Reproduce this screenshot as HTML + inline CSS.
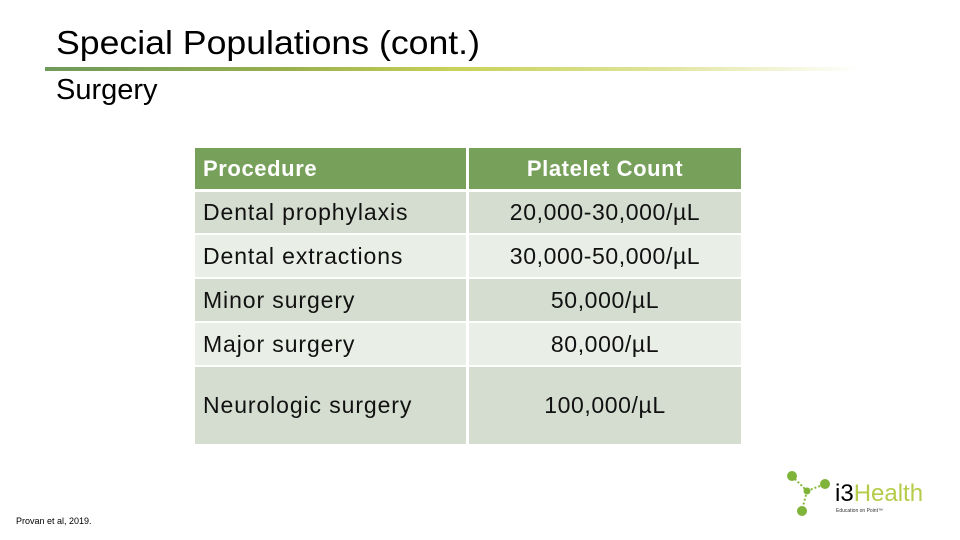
<!DOCTYPE html>
<html><head><meta charset="utf-8"><style>
body{margin:0;width:960px;height:540px;background:#fff;position:relative;overflow:hidden;font-family:"Liberation Sans",sans-serif;}
.t{position:absolute;color:#000;white-space:nowrap}
.c{position:absolute;display:flex;align-items:center;font-size:23px;letter-spacing:0.6px;color:#111;box-sizing:border-box;white-space:nowrap}
</style></head><body>
<div class="t" style="left:56px;top:24px;font-size:33px;transform:scaleX(1.08);transform-origin:left">Special Populations (cont.)</div>
<div style="position:absolute;left:45px;top:67px;width:815px;height:4px;background:linear-gradient(90deg,#6e9a5a 0%,#9ab04e 30%,#c8d158 50%,#dfe49a 75%,#fff 100%)"></div>
<div class="t" style="left:56px;top:74px;font-size:29px">Surgery</div>
<div id="tbl"></div>
<div class="t" style="left:16px;top:516px;font-size:9px">Provan et al, 2019.</div>
<svg style="position:absolute;left:780px;top:460px" width="160" height="70">
<line x1="12" y1="16" x2="27" y2="31" stroke="#8ab83a" stroke-width="2" stroke-dasharray="2 2"/>
<line x1="27" y1="31" x2="45" y2="24" stroke="#8ab83a" stroke-width="2" stroke-dasharray="2 2"/>
<line x1="27" y1="31" x2="22" y2="50" stroke="#8ab83a" stroke-width="2" stroke-dasharray="2 2"/>
<circle cx="12" cy="16" r="5" fill="#7fb33a"/><circle cx="45" cy="24" r="5" fill="#7fb33a"/>
<circle cx="27" cy="31" r="3.5" fill="#7fb33a"/><circle cx="22" cy="51" r="5" fill="#7fb33a"/>
<text x="55" y="41" font-family="Liberation Sans" font-size="24" fill="#000">i3<tspan fill="#b5cc4a">Health</tspan></text>
<text x="56" y="52" font-family="Liberation Sans" font-size="5" fill="#333">Education on Point™</text>
</svg>
<script>
const procedures=["Dental prophylaxis","Dental extractions","Minor surgery","Major surgery","Neurologic surgery"];
const counts=["20,000-30,000/µL","30,000-50,000/µL","50,000/µL","80,000/µL","100,000/µL"];
const tops=[148,192,235,279,323,367],bots=[189,233,277,321,365,444];
const tbl=document.getElementById('tbl');
function cell(x,w,r,txt,bg,center,color){
 const d=document.createElement('div');d.className='c';
 d.style.cssText=`left:${x}px;top:${tops[r]}px;width:${w}px;height:${bots[r]-tops[r]}px;background:${bg};color:${color};${center?'justify-content:center;':'padding-left:8px;letter-spacing:0.9px;'}`;
 d.textContent=txt;tbl.appendChild(d);return d;}
let h=cell(195,271,0,"Procedure","#77a05a",false,"#fff");h.style.fontWeight='bold';h.style.fontSize='22px';h.style.letterSpacing='0.6px';


h=cell(469,272,0,"Platelet Count","#77a05a",true,"#fff");h.style.fontWeight='bold';h.style.fontSize='22px';


procedures.forEach((p,i)=>{
 const bg=i%2===0?'#d4ddcf':'#e9eee6';
 let a=cell(195,271,i+1,p,bg,false,'#111');
 
 
 let b=cell(469,272,i+1,counts[i],bg,true,'#111');
 
 
});
</script>
</body></html>
